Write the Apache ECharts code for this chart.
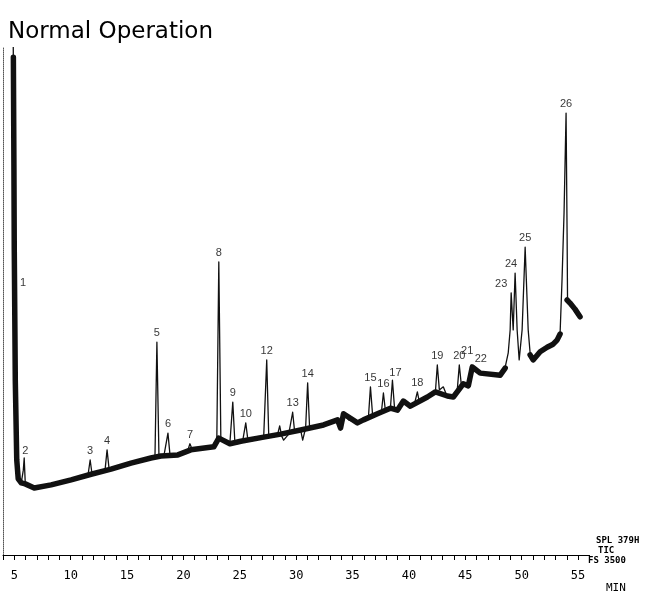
<!DOCTYPE html>
<html>
<head>
<meta charset="utf-8">
<script src="https://cdn.jsdelivr.net/npm/echarts@6/dist/echarts.min.js"></script>
<style>
  html, body { margin: 0; padding: 0; background: #fff; }
  #main { width: 646px; height: 594px; }
</style>
</head>
<body>
<div id="main"></div>
<script>
var myChart = echarts.init(document.getElementById('main'));

// retention time (min) and detector response (% of plot height)
let times = [
    4.91, 4.96, 5.00, 5.03, 5.13, 5.22, 5.31, 5.44, 5.62, 5.80,
    5.88, 5.97, 6.24, 6.77, 7.39, 8.27, 9.16, 10.04, 11.19, 11.55,
    11.73, 11.90, 12.70, 13.05, 13.23, 13.41, 14.47, 15.35, 16.24, 17.12,
    17.48, 17.65, 17.83, 18.27, 18.63, 18.81, 19.51, 20.04, 20.40, 20.58,
    20.75, 21.28, 21.99, 22.70, 22.96, 23.14, 23.32, 23.67, 24.12, 24.38,
    24.56, 24.82, 25.27, 25.53, 25.71, 26.24, 27.12, 27.39, 27.57, 28.01,
    28.36, 28.54, 28.72, 28.89, 29.34, 29.69, 29.87, 30.40, 30.58, 30.84,
    31.02, 31.19, 31.73, 32.43, 33.05, 33.67, 33.94, 34.20, 34.65, 35.44,
    35.97, 36.42, 36.59, 36.77, 37.21, 37.57, 37.74, 37.92, 38.36, 38.54,
    38.72, 38.98, 39.51, 40.13, 40.49, 40.75, 40.93, 41.64, 42.17, 42.35,
    42.52, 42.70, 43.05, 43.41, 43.94, 44.29, 44.47, 44.65, 44.82, 45.27,
    45.44, 45.53, 45.71, 45.97, 46.33, 47.21, 48.10, 48.54, 48.81, 48.98,
    49.07, 49.25, 49.42, 49.60, 49.78, 50.04, 50.31, 50.58, 50.75, 51.02,
    51.64, 52.26, 52.79, 53.14, 53.41, 53.58, 53.76, 53.94, 54.03, 54.07,
    54.29, 54.73, 55.18
];
let signal = [
    100, 79.7, 69.9, 53.5, 34.4, 18.7, 15.2, 14.6, 14.2, 16.7,
    19.1, 14.4, 13.6, 13.2, 13.4, 13.8, 14.2, 14.8, 15.6, 15.9,
    18.7, 15.9, 16.5, 16.7, 20.7, 16.9, 17.3, 18.1, 18.5, 19.1,
    19.5, 41.9, 19.7, 19.5, 24.0, 19.7, 19.7, 20.5, 20.7, 21.9,
    20.9, 21.1, 20.9, 21.3, 22.0, 57.7, 23.2, 22.6, 21.9, 30.1,
    22.4, 21.9, 22.6, 26.0, 22.8, 23.0, 23.2, 38.4, 23.4, 23.2,
    23.8, 25.4, 23.4, 22.6, 23.8, 28.1, 24.2, 24.6, 22.6, 25.0,
    33.9, 25.2, 25.0, 25.6, 25.8, 26.6, 24.6, 28.0, 26.6, 26.0,
    26.6, 27.4, 33.1, 27.8, 27.6, 28.3, 31.9, 28.3, 28.9, 34.4,
    29.1, 28.5, 30.5, 29.1, 29.7, 32.1, 30.1, 31.1, 31.9, 32.1,
    37.4, 32.5, 33.1, 31.1, 30.9, 32.5, 37.4, 33.5, 33.9, 33.1,
    36.4, 37.4, 36.4, 36.8, 35.8, 35.4, 35.4, 37.0, 39.8, 44.3,
    51.6, 44.3, 55.5, 44.3, 38.4, 44.3, 60.6, 44.3, 39.8, 38.4,
    40.0, 40.9, 41.5, 42.3, 43.7, 54.1, 67.3, 87.0, 63.4, 50.2,
    49.6, 48.2, 46.9
];

// noisy baseline band (centre line), three stretches
let bandTimes = [
    [4.92, 4.97, 5.00, 5.09, 5.22, 5.35, 5.62, 5.97, 6.77, 8.27, 10.04, 11.81, 13.58, 15.35, 17.12, 18.01,
     19.51, 20.66, 22.70, 23.14, 24.12, 25.09, 27.12, 28.63, 30.40, 32.43, 33.67, 33.94, 34.20,
     35.44, 35.97, 37.21, 38.36, 38.98, 39.51, 40.13, 41.64, 42.35, 43.41, 43.94, 44.82, 45.27,
     45.62, 46.33, 48.10, 48.54],
    [50.75, 51.02, 51.64, 52.26, 52.79, 53.14, 53.41],
    [54.03, 54.29, 54.73, 55.18]
];
let bandSignal = [
    [98.0, 76.0, 60.0, 34.4, 18.7, 15.0, 14.2, 14.0, 13.2, 13.8, 14.8, 15.9, 16.9, 18.1, 19.1, 19.5,
     19.7, 20.7, 21.3, 23.0, 21.9, 22.4, 23.2, 23.8, 24.6, 25.6, 26.6, 25.0, 27.8,
     26.0, 26.6, 27.8, 28.9, 28.5, 30.3, 29.3, 31.1, 32.1, 31.3, 31.1, 33.7, 33.3,
     37.0, 35.8, 35.4, 36.8],
    [39.4, 38.4, 40.0, 40.9, 41.5, 42.3, 43.5],
    [50.2, 49.6, 48.4, 46.9]
];

// peak numbers and the retention time of the trace point each one sits on
let peakNames = ['1', '2', '3', '4', '5', '6', '7', '8', '9', '10', '12', '13', '14',
    '15', '16', '17', '18', '19', '20', '21', '22', '23', '24', '25', '26'];
let peakTimes = [5.03, 5.88, 11.73, 13.23, 17.65, 18.63, 20.58, 23.14, 24.38, 25.53, 27.39, 29.69, 31.02,
    36.59, 37.74, 38.54, 40.75, 42.52, 44.47, 45.44, 45.53, 49.07, 49.42, 50.31, 53.94];

// label placement tweaks
let labelTweak = {
    '1': { position: 'right', offset: [2, 0] },
    '2': { offset: [1, 2] },
    '17': { offset: [3, 2] },
    '21': { offset: [-3, -10] },
    '22': { position: 'right', offset: [0, -6] },
    '23': { offset: [-10, 0] },
    '24': { offset: [-4, 0] }
};

let traceData = times.map(function (t, i) { return [t, signal[i]]; });

let peakData = peakNames.map(function (name, i) {
    let idx = times.indexOf(peakTimes[i]);
    let tw = labelTweak[name] || {};
    return {
        value: [times[idx], signal[idx]],
        label: {
            show: true,
            formatter: name,
            position: tw.position || 'top',
            distance: 3,
            offset: tw.offset || [0, 0]
        }
    };
});

let bandSeries = bandTimes.map(function (ts, k) {
    return {
        type: 'line',
        data: ts.map(function (t, i) { return [t, bandSignal[k][i]]; }),
        symbol: 'none',
        silent: true,
        lineStyle: { color: '#111', width: 5.5, join: 'round', cap: 'round' },
        z: 2
    };
});

var option = {
    animation: false,
    backgroundColor: '#fff',
    title: {
        text: 'Normal Operation',
        left: 3,
        top: 16,
        textStyle: {
            fontFamily: 'DejaVu Sans',
            fontSize: 23,
            fontWeight: 'normal',
            color: '#000'
        }
    },
    grid: {
        left: 1.7,
        right: 56.7,
        top: 47,
        bottom: 39
    },
    xAxis: {
        type: 'value',
        min: 4,
        max: 56,
        interval: 1,
        axisLine: { show: true, lineStyle: { color: '#000', width: 1 } },
        axisTick: { show: true, length: 5, lineStyle: { color: '#000' } },
        splitLine: { show: false },
        axisLabel: {
            margin: 15,
            color: '#000',
            fontFamily: 'DejaVu Sans Mono',
            fontSize: 12,
            formatter: function (v) {
                return v % 5 === 0 ? String(v) : '';
            }
        }
    },
    yAxis: {
        type: 'value',
        min: 0,
        max: 100,
        axisLine: { show: true, lineStyle: { color: '#555', width: 1, type: 'dotted' } },
        axisTick: { show: false },
        axisLabel: { show: false },
        splitLine: { show: false }
    },
    graphic: [
        { type: 'text', left: 596, top: 536, style: { text: 'SPL 379H', font: 'bold 9px "DejaVu Sans Mono"', fill: '#000' } },
        { type: 'text', left: 598, top: 546, style: { text: 'TIC', font: 'bold 9px "DejaVu Sans Mono"', fill: '#000' } },
        { type: 'text', left: 588, top: 556, style: { text: 'FS 3500', font: 'bold 9px "DejaVu Sans Mono"', fill: '#000' } },
        { type: 'text', left: 606, top: 583, style: { text: 'MIN', font: '11px "DejaVu Sans Mono"', fill: '#000' } }
    ],
    series: bandSeries.concat([
        {
            type: 'line',
            data: traceData,
            symbol: 'none',
            silent: true,
            lineStyle: { color: '#111', width: 1.3, join: 'round' },
            z: 3
        },
        {
            type: 'scatter',
            data: peakData,
            symbol: 'circle',
            symbolSize: 1,
            silent: true,
            itemStyle: { color: 'rgba(0,0,0,0)' },
            label: {
                color: '#000',
                fontFamily: 'Liberation Sans',
                fontSize: 11
            },
            z: 4
        }
    ])
};

myChart.setOption(option);
</script>
</body>
</html>
